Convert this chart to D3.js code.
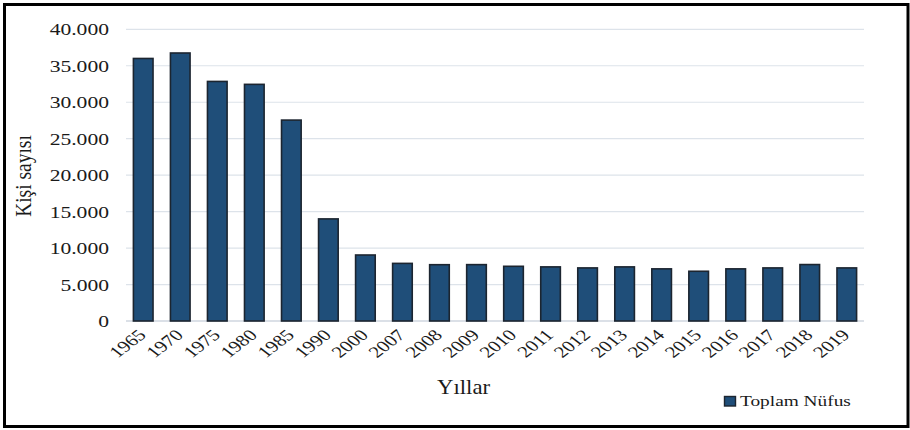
<!DOCTYPE html>
<html>
<head>
<meta charset="utf-8">
<script src="https://cdn.jsdelivr.net/npm/d3@7"></script>
<style>
  html, body { margin: 0; padding: 0; background: #fff; }
  svg { display: block; }
  text { font-family: "Liberation Serif", "Times New Roman", serif; fill: #1a1a1a; }
</style>
</head>
<body>
<svg id="chart" width="910" height="430"></svg>
<script>
const years = ["1965","1970","1975","1980","1985","1990","2000","2007","2008","2009","2010","2011","2012","2013","2014","2015","2016","2017","2018","2019"];
const population = [36000,36750,32850,32450,27550,14000,9050,7900,7720,7730,7500,7420,7280,7420,7150,6820,7150,7280,7740,7280];
const yTicks = [0,5000,10000,15000,20000,25000,30000,35000,40000];
const seriesName = "Toplam Nüfus";
const yTitle = "Kişi sayısı";
const xTitle = "Yıllar";

const svg = d3.select("#chart");
const W = 910, H = 430;
const plotLeft = 126, plotRight = 864, plotTop = 29.3, plotBottom = 321;
const sx = 1.27;

svg.append("rect").attr("x", 0).attr("y", 0).attr("width", W).attr("height", H).attr("fill", "#fff");
svg.append("rect").attr("x", 4.5).attr("y", 4.5).attr("width", W - 6.5).attr("height", H - 8).attr("fill", "none").attr("stroke", "#000").attr("stroke-width", 3);

const x = d3.scaleBand().domain(years).range([plotLeft, plotRight]).paddingInner(0.47).paddingOuter(0.2);
const y = d3.scaleLinear().domain([0, 40000]).range([plotBottom, plotTop]);

const fmt = v => d3.format(",")(v).replace(/,/g, ".");

// gridlines
svg.append("g").selectAll("line").data(yTicks).join("line")
  .attr("x1", plotLeft).attr("x2", plotRight)
  .attr("y1", d => y(d)).attr("y2", d => y(d))
  .attr("stroke", d => d === 0 ? "#cfd6df" : "#dde3ea")
  .attr("stroke-width", d => d === 0 ? 1.6 : 1.2);

// y tick labels
svg.append("g").selectAll("text").data(yTicks).join("text")
  .attr("transform", d => `translate(109,${y(d) + 6}) scale(${sx},1)`)
  .attr("text-anchor", "end")
  .attr("font-size", 17)
  .text(d => fmt(d));

// bars
svg.append("g").selectAll("rect").data(population).join("rect")
  .attr("x", (d, i) => x(years[i]))
  .attr("width", x.bandwidth())
  .attr("y", d => y(d))
  .attr("height", d => y(0) - y(d))
  .attr("fill", "#1f4e79")
  .attr("stroke", "#1c2530")
  .attr("stroke-width", 1.6);

// x tick labels
svg.append("g").selectAll("text").data(years).join("text")
  .attr("transform", d => `translate(${x(d) + x.bandwidth() / 2 + 4},336) scale(1.3,1) rotate(-45)`)
  .attr("text-anchor", "end")
  .attr("font-size", 16)
  .text(d => d);

// axis titles
svg.append("text")
  .attr("transform", `translate(31,176) scale(1.15,1) rotate(-90)`)
  .attr("text-anchor", "middle")
  .attr("font-size", 19.5)
  .text(yTitle);

svg.append("text")
  .attr("transform", `translate(463.5,394) scale(1.14,1)`)
  .attr("text-anchor", "middle")
  .attr("font-size", 20)
  .text(xTitle);

// legend
svg.append("rect").attr("x", 724.5).attr("y", 396.5).attr("width", 11).attr("height", 9.5)
  .attr("fill", "#1f4e79").attr("stroke", "#1c2530").attr("stroke-width", 1.4);
svg.append("text")
  .attr("transform", `translate(740,406) scale(1.29,1)`)
  .attr("font-size", 15)
  .text(seriesName);
</script>
</body>
</html>
